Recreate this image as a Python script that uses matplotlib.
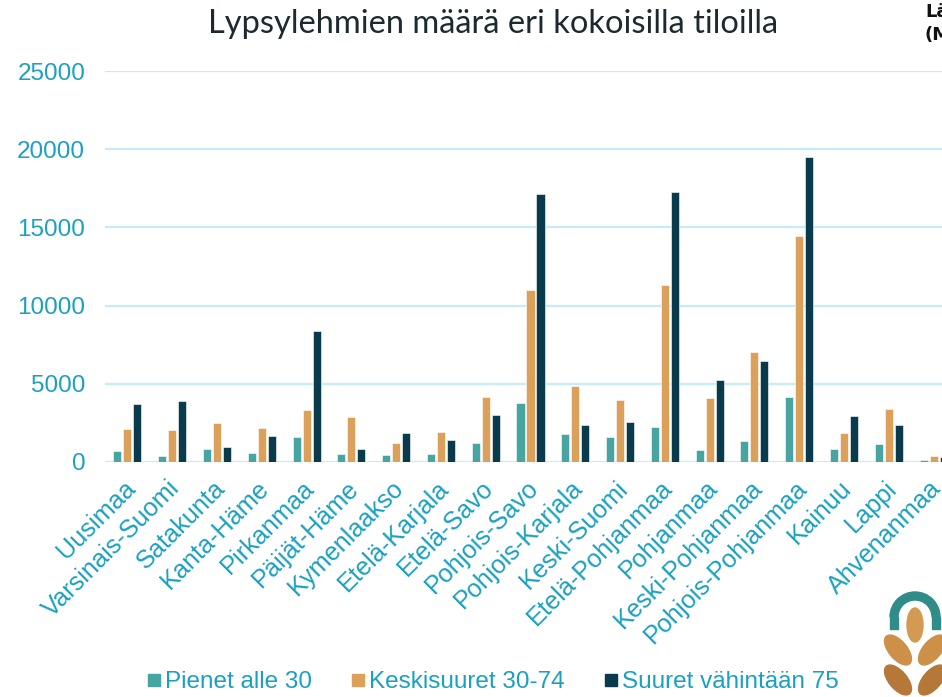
import matplotlib.pyplot as plt
import numpy as np
from matplotlib.lines import Line2D
from matplotlib.patches import Wedge, Ellipse, Rectangle
from matplotlib.transforms import ScaledTranslation

#-------------------------------------------DATA---------------------------------------
regions = ['Uusimaa', 'Varsinais-Suomi', 'Satakunta', 'Kanta-Häme', 'Pirkanmaa',
           'Päijät-Häme', 'Kymenlaakso', 'Etelä-Karjala', 'Etelä-Savo', 'Pohjois-Savo',
           'Pohjois-Karjala', 'Keski-Suomi', 'Etelä-Pohjanmaa', 'Pohjanmaa',
           'Keski-Pohjanmaa', 'Pohjois-Pohjanmaa', 'Kainuu', 'Lappi', 'Ahvenanmaa']
pienet = [680, 410, 810, 600, 1620, 530, 450, 510, 1220, 3780,
          1770, 1600, 2220, 770, 1370, 4140, 830, 1130, 110]
keskisuuret = [2090, 2030, 2470, 2200, 3350, 2900, 1190, 1920, 4180, 11000,
               4840, 3950, 11300, 4070, 7040, 14460, 1830, 3370, 410]
suuret = [3730, 3880, 940, 1640, 8360, 850, 1830, 1390, 3030, 17130,
          2350, 2540, 17260, 5250, 6440, 19500, 2970, 2350, 300]
series_names = ['Pienet alle 30', 'Keskisuuret 30-74', 'Suuret vähintään 75']
title = 'Lypsylehmien määrä eri kokoisilla tiloilla'
#-------------------------------------------DATA---------------------------------------

colors = ['#46a4a1', '#dba05a', '#0a3b4c']
label_color = '#1aa0c0'
grid_color = '#c6ecf6'

fig = plt.figure(figsize=(9.42, 6.97), dpi=100)
ax = fig.add_axes([105 / 942, 235 / 697, 851 / 942, 391 / 697])

x = np.arange(len(regions))
w = 0.18
off = 0.223
for k, vals in enumerate([pienet, keskisuuret, suuret]):
    ax.bar(x + (k - 1) * off, vals, width=w, color=colors[k],
           edgecolor='white', linewidth=0.4, zorder=3)

ax.set_xlim(-0.5, len(regions) - 0.5)
ax.set_ylim(0, 25000)
ax.set_yticks(np.arange(0, 25001, 5000))
ax.yaxis.grid(True, color=grid_color, linewidth=1.6, zorder=0)
ax.set_axisbelow(True)
for s in ax.spines.values():
    s.set_visible(False)
ax.axhline(0, color=grid_color, linewidth=2, zorder=2)

ax.tick_params(axis='both', length=0, colors=label_color)
ax.tick_params(axis='y', pad=14.3)
for t in ax.get_yticklabels():
    t.set_fontfamily('Liberation Sans')
    t.set_fontsize(17.5)
    t.set_color(label_color)

ax.set_xticks(x)
ax.tick_params(axis='x', pad=14)
ax.set_xticklabels(regions, rotation=45, ha='right', va='center',
                   rotation_mode='anchor', fontsize=18.2,
                   family='Liberation Sans', color=label_color)
# nudge the slanted labels a little right/down
nudge = ScaledTranslation(4 / 100, -3 / 100, fig.dpi_scale_trans)
for t in ax.get_xticklabels():
    t.set_transform(t.get_transform() + nudge)

fig.text(493.5 / 942, 1 - 24 / 697, title, ha='center', va='center',
         fontsize=23.5, color='#1c2a30', family='Lato')

# cut-off source note at the top right
fig.text(925 / 942, 1 - 12 / 697, 'Lä', ha='left', va='center',
         fontsize=13, fontweight='bold', color='#111111')
fig.text(925 / 942, 1 - 35 / 697, '(M', ha='left', va='center',
         fontsize=13, fontweight='bold', color='#111111')

handles = [Line2D([], [], marker='s', linestyle='none', markersize=8.6,
                  markerfacecolor=c, markeredgecolor=c) for c in colors]
leg = fig.legend(handles, series_names, loc='center', ncol=3,
                 bbox_to_anchor=(493 / 942, 15 / 697), frameon=False,
                 handlelength=0.5, handletextpad=0.2, columnspacing=1.65,
                 prop={'family': 'Liberation Sans', 'size': 17.5})
for t in leg.get_texts():
    t.set_color(label_color)

# logo (rough)
lax = fig.add_axes([880 / 942, 0, 62 / 942, 110 / 697])
lax.set_xlim(0, 62)
lax.set_ylim(0, 110)
lax.axis('off')
lax.add_patch(Wedge((35, 80), 25, 0, 180, width=8, color='#2f8c88'))
lax.add_patch(Rectangle((10, 68), 8, 12, color='#2f8c88'))
lax.add_patch(Rectangle((52, 68), 8, 12, color='#2f8c88'))
lax.add_patch(Ellipse((35, 72), 16, 34, color='#d39a52'))
for dx, ang in [(-17, 40), (17, -40)]:
    lax.add_patch(Ellipse((35 + dx, 47), 18, 36, angle=ang, color='#cc9048'))
    lax.add_patch(Ellipse((35 + dx, 17), 18, 36, angle=ang, color='#b57838'))

plt.savefig('out.png', dpi=100)
